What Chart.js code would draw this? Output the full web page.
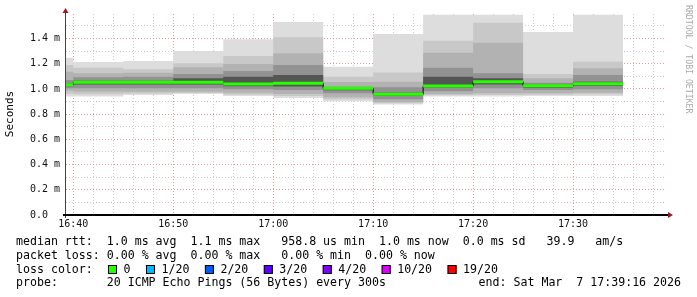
<!DOCTYPE html>
<html>
<head>
<meta charset="utf-8">
<script src="https://cdn.jsdelivr.net/npm/chart.js@4.4.1/dist/chart.umd.min.js"></script>
<style>
html,body{margin:0;padding:0;background:#fff;}
canvas{display:block;}
</style>
</head>
<body>
<canvas id="smoke" width="697" height="297"></canvas>
<script>
// 5 minute slots (start time), all values in ms
const slots = ['16:35','16:40','16:45','16:50','16:55','17:00','17:05','17:10','17:15','17:20','17:25','17:30'];

const pingMax = [1.248, 1.214, 1.222, 1.302, 1.394, 1.532, 1.177, 1.437, 1.59, 1.59, 1.452, 1.59];
const upper2  = [1.19, 1.169, 1.156, 1.204, 1.262, 1.41, 1.098, 1.13, 1.383, 1.526, 1.119, 1.217];
const upper3  = [1.137, 1.124, 1.129, 1.172, 1.198, 1.283, 1.056, 1.058, 1.288, 1.367, 1.085, 1.164];
const upper4  = [1.071, 1.093, 1.098, 1.119, 1.143, 1.19, 1.018, 1.013, 1.169, 1.124, 1.05, 1.111];
const upper5  = [1.045, 1.066, 1.066, 1.085, 1.098, 1.111, 1.01, 0.971, 1.098, 1.085, 1.035, 1.058];
const median  = [1.034, 1.053, 1.054, 1.053, 1.04, 1.045, 1.005, 0.958, 1.024, 1.058, 1.025, 1.042];
const lower5  = [1.022, 1.035, 1.035, 1.035, 1.022, 1.02, 0.99, 0.945, 1.01, 1.035, 1.01, 1.025];
const lower4  = [1.005, 1.005, 1.005, 1.005, 0.998, 0.992, 0.966, 0.918, 0.982, 1.005, 0.992, 0.998];
const lower3  = [0.985, 0.978, 0.978, 0.978, 0.971, 0.96, 0.934, 0.897, 0.96, 0.966, 0.966, 0.971];
const lower2  = [0.962, 0.958, 0.965, 0.968, 0.955, 0.945, 0.918, 0.886, 0.95, 0.953, 0.955, 0.958];
const pingMin = [0.94, 0.94, 0.952, 0.96, 0.944, 0.929, 0.902, 0.876, 0.94, 0.94, 0.944, 0.944];

const yTicks = [0, 0.1, 0.2, 0.3, 0.4, 0.5, 0.6, 0.7, 0.8, 0.9, 1.0, 1.1, 1.2, 1.3, 1.4, 1.5];
const xTicks = [40,42,44,46,48,50,52,54,56,58,60,62,64,66,68,70,72,74,76,78,80,82,84,86,88,90,92,94,96,98];

const lossLabels = ['0','1/20','2/20','3/20','4/20','10/20','19/20'];
const lossColors = ['#26ff00','#00b8ff','#0059ff','#5e00ff','#7e00ff','#dd00ff','#ff0000'];

const statLines = [
  'median rtt:  1.0 ms avg  1.1 ms max   958.8 us min  1.0 ms now  0.0 ms sd   39.9   am/s',
  'packet loss: 0.00 % avg  0.00 % max   0.00 % min  0.00 % now'
];
const probeText = 'probe:       20 ICMP Echo Pings (56 Bytes) every 300s';
const endText = 'end: Sat Mar  7 17:39:16 2026';

const axisStart = 39 + 16/60;   // 16:39:16, minutes after 16:00
const axisEnd = 99.3;
const mono = 'DejaVu Sans Mono';

function toMin(s){ const p = s.split(':'); return (+p[0] - 16) * 60 + (+p[1]); }

function stepData(vals){
  const pts = slots.map((s, i) => ({x: Math.max(toMin(s), axisStart), y: vals[i]}));
  pts.push({x: toMin(slots[slots.length - 1]) + 5, y: vals[vals.length - 1]});
  return pts;
}

function medianSegs(){
  const out = [];
  slots.forEach((s, i) => {
    const a = Math.max(toMin(s), axisStart), b = toMin(s) + 5;
    out.push({x: a, y: median[i]}, {x: b, y: median[i]}, {x: b, y: null});
  });
  return out;
}

const bands = [
  [pingMax, pingMin, '#dddddd'],
  [upper2, lower2, '#c8c8c8'],
  [upper3, lower3, '#b2b2b2'],
  [upper4, lower4, '#929292'],
  [upper5, lower5, '#555555']
];

const datasets = [];
bands.forEach((b, k) => {
  const hiIdx = datasets.length;
  datasets.push({
    data: stepData(b[0]), stepped: 'before', fill: hiIdx + 1,
    backgroundColor: b[2], borderWidth: 0, pointRadius: 0, order: 20 - k
  });
  datasets.push({
    data: stepData(b[1]), stepped: 'before', fill: false,
    borderWidth: 0, pointRadius: 0, order: 20 - k
  });
});
datasets.push({
  data: stepData(median), stepped: 'before', fill: false,
  borderColor: '#000', borderWidth: 1, pointRadius: 0, order: 1
});
datasets.push({
  data: medianSegs(), fill: false, spanGaps: false,
  borderColor: lossColors[0], borderWidth: 3, pointRadius: 0, order: 0
});

const minorGrid = '#cccccc', majorGrid = '#e09c9c';

const decor = {
  id: 'decor',
  afterDraw(chart){
    const c = chart.ctx, a = chart.chartArea;
    c.save();
    // axes
    c.strokeStyle = '#444'; c.lineWidth = 1;
    c.beginPath(); c.moveTo(a.left - 0.5, a.bottom + 3); c.lineTo(a.left - 0.5, a.top - 2); c.stroke();
    c.strokeStyle = '#000'; c.lineWidth = 2;
    c.beginPath(); c.moveTo(a.left - 3, a.bottom); c.lineTo(a.right + 3, a.bottom); c.stroke();
    c.fillStyle = '#9e1a1a';
    c.beginPath(); c.moveTo(a.left - 3.5, a.top - 1); c.lineTo(a.left + 2.5, a.top - 1); c.lineTo(a.left - 0.5, a.top - 6); c.closePath(); c.fill();
    c.beginPath(); c.moveTo(a.right + 2, a.bottom - 3); c.lineTo(a.right + 2, a.bottom + 3); c.lineTo(a.right + 7, a.bottom); c.closePath(); c.fill();

    // axis title
    c.fillStyle = '#000';
    c.font = '11px "' + mono + '"';
    c.textAlign = 'center'; c.textBaseline = 'middle';
    c.save(); c.translate(10, 114); c.rotate(-Math.PI / 2); c.fillText('Seconds', 0, 0); c.restore();

    // watermark
    c.save();
    c.fillStyle = '#aaaaaa'; c.font = '8.2px "' + mono + '"';
    c.textAlign = 'left'; c.translate(688, 5); c.rotate(Math.PI / 2); c.fillText('RRDTOOL / TOBI OETIKER', 0, 0);
    c.restore();

    // legend block
    c.font = '11.6px "' + mono + '"';
    c.textAlign = 'left'; c.textBaseline = 'middle'; c.fillStyle = '#000';
    c.fillText(statLines[0], 16, 242);
    c.fillText(statLines[1], 16, 255.5);
    c.fillText('loss color:', 16, 269.5);
    let x = 108;
    lossLabels.forEach((lab, i) => {
      c.fillStyle = lossColors[i];
      c.fillRect(x, 265, 9, 9);
      c.strokeStyle = '#000'; c.lineWidth = 1;
      c.strokeRect(x + 0.5, 265.5, 8, 8);
      c.fillStyle = '#000';
      const lx = x + 15.5;
      c.fillText(lab, lx, 269.5);
      x = lx + c.measureText(lab).width + 15.5;
    });
    c.fillText(probeText, 16, 283);
    c.textAlign = 'right';
    c.fillText(endText, 681, 283);
    c.restore();
  }
};

new Chart(document.getElementById('smoke'), {
  type: 'line',
  data: {datasets: datasets},
  options: {
    responsive: false,
    devicePixelRatio: 1,
    animation: false,
    layout: {padding: {left: 0, right: 31, top: 14, bottom: 0}},
    plugins: {legend: {display: false}, tooltip: {enabled: false}},
    scales: {
      x: {
        type: 'linear', min: axisStart, max: axisEnd, z: 1,
        afterFit(s){ s.height = 82; },
        afterBuildTicks(s){ s.ticks = xTicks.map(v => ({value: v})); },
        grid: {
          color: ctx => (ctx.tick && Math.round(ctx.tick.value) % 10 === 0) ? majorGrid : minorGrid,
          drawTicks: false, lineWidth: 1
        },
        border: {display: false, dash: [1, 2]},
        ticks: {
          autoSkip: false, maxRotation: 0, padding: 3, color: '#111',
          font: {family: mono, size: 10},
          callback: v => {
            const m = Math.round(v);
            if (m % 10) return '';
            return (16 + Math.floor(m / 60)) + ':' + String(m % 60).padStart(2, '0');
          }
        }
      },
      y: {
        min: 0, max: 1.595, z: 1,
        afterFit(s){ s.width = 66; },
        afterBuildTicks(s){ s.ticks = yTicks.map(v => ({value: v})); },
        grid: {
          color: ctx => (ctx.tick && Math.round(ctx.tick.value * 10) % 2 === 0) ? majorGrid : minorGrid,
          drawTicks: false, lineWidth: 1
        },
        border: {display: false, dash: [1, 2]},
        ticks: {
          autoSkip: false, padding: 6, color: '#111',
          font: {family: mono, size: 10},
          callback: v => {
            const k = Math.round(v * 10);
            if (k % 2) return '';
            return k === 0 ? '0.0  ' : (k / 10).toFixed(1) + ' m';
          }
        }
      }
    }
  },
  plugins: [decor]
});
</script>
</body>
</html>
